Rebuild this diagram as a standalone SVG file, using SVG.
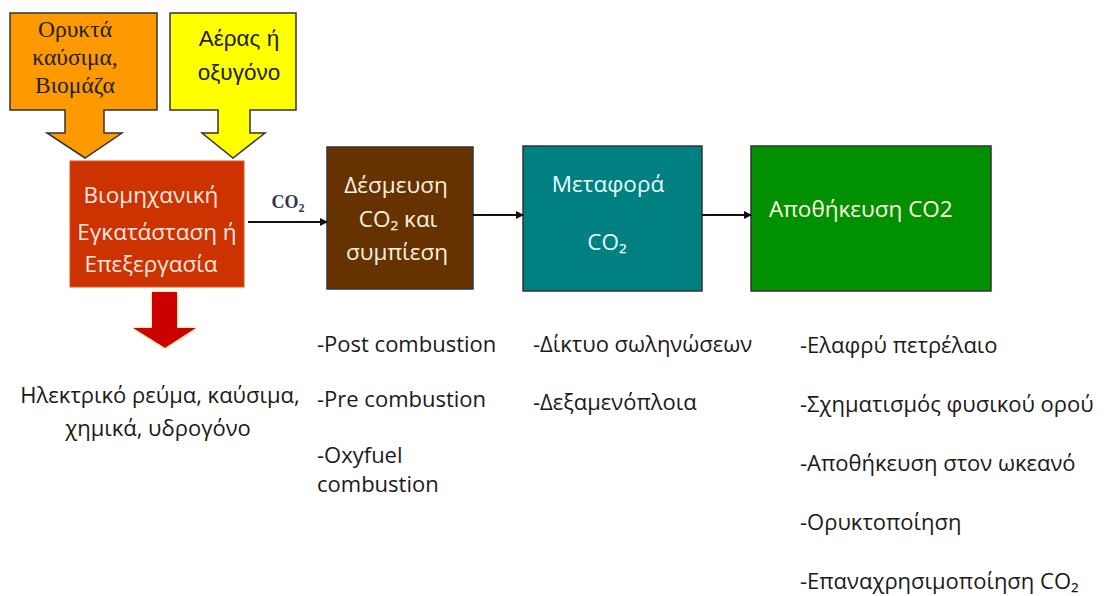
<svg xmlns="http://www.w3.org/2000/svg" width="1105" height="596" viewBox="0 0 1105 596">
<defs>
<marker id="ah" markerWidth="8" markerHeight="8" refX="7" refY="4" orient="auto" markerUnits="userSpaceOnUse">
<path d="M0,0 L8,4 L0,8 Z" fill="#111"/>
</marker>
<filter id="glow" x="-30%" y="-30%" width="160%" height="160%">
<feGaussianBlur in="SourceAlpha" stdDeviation="1.5" result="b"/>
<feFlood flood-color="#FFC040"/>
<feComposite in2="b" operator="in" result="g"/>
<feMerge><feMergeNode in="g"/><feMergeNode in="SourceGraphic"/></feMerge>
</filter>
</defs>
<style>
.t{font-family:"Open Sans","Noto Sans",sans-serif;font-size:22px;fill:#1a1a1a}
.w{font-family:"Open Sans","Noto Sans",sans-serif;font-size:22.5px}
.box{stroke:#333;stroke-width:1.5}
.conn{stroke:#111;stroke-width:2;fill:none;marker-end:url(#ah)}
</style>
<rect width="1105" height="596" fill="#fff"/>

<g id="fuels">
<path class="box" d="M10,13 H157 V110 H104 V133 H122 L85,158 L47,133 H65 V110 H10 Z" fill="#FF9900"/>
<text x="75" y="37" text-anchor="middle" font-family="Liberation Serif,serif" font-size="23.5" fill="#222">Ορυκτά</text>
<text x="75" y="65" text-anchor="middle" font-family="Liberation Serif,serif" font-size="23.5" fill="#222">καύσιμα,</text>
<text x="75" y="93" text-anchor="middle" font-family="Liberation Serif,serif" font-size="23.5" fill="#222">Βιομάζα</text>
</g>

<g id="air">
<path class="box" d="M170,13 H296 V110 H250 V133 H265 L233,158 L202,133 H218 V110 H170 Z" fill="#FFFF00"/>
<text x="239" y="46" text-anchor="middle" font-family="Liberation Sans,sans-serif" font-size="22.5" fill="#222">Αέρας ή</text>
<text x="239" y="80" text-anchor="middle" font-family="Liberation Sans,sans-serif" font-size="22.5" fill="#222">οξυγόνο</text>
</g>

<g id="plant">
<rect x="70" y="161" width="174" height="126" fill="#CC3300" stroke="#E05020" stroke-width="1"/>
<text class="w" x="151" y="203" text-anchor="middle" fill="#FFE8E0" font-size="20.5">Βιομηχανική</text>
<text class="w" x="157" y="240" text-anchor="middle" fill="#FFE8E0" font-size="20.5">Εγκατάσταση ή</text>
<text class="w" x="151" y="272" text-anchor="middle" fill="#FFE8E0" font-size="20.5">Επεξεργασία</text>
</g>

<g id="output-arrow">
<path d="M152,292 H177 V328 H196 L165,348 L133,328 H152 Z" fill="#CC0000" filter="url(#glow)"/>
</g>

<g id="products">
<text class="t" x="160" y="403" text-anchor="middle">Ηλεκτρικό ρεύμα, καύσιμα,</text>
<text class="t" x="158" y="436" text-anchor="middle">χημικά, υδρογόνο</text>
</g>

<g id="capture">
<rect class="box" x="327" y="147" width="146" height="142" fill="#663300"/>
<text class="w" x="396" y="193" text-anchor="middle" fill="#FFF0E0">Δέσμευση</text>
<text class="w" x="398" y="227" text-anchor="middle" fill="#FFF0E0">CO₂ και</text>
<text class="w" x="397" y="260" text-anchor="middle" fill="#FFF0E0">συμπίεση</text>
</g>

<g id="transport">
<rect class="box" x="523" y="146" width="179" height="145" fill="#008080"/>
<text class="w" x="608" y="192" text-anchor="middle" fill="#E8FFFF">Μεταφορά</text>
<text class="w" x="607" y="250" text-anchor="middle" fill="#E8FFFF">CO₂</text>
</g>

<g id="storage">
<rect class="box" x="751" y="146" width="240" height="145" fill="#009000"/>
<text class="w" x="769" y="217" fill="#FFFFE0">Αποθήκευση CO2</text>
</g>

<g id="capture-list">
<text class="t" x="317" y="352">-Post combustion</text>
<text class="t" x="317" y="407">-Pre combustion</text>
<text class="t" x="317" y="463">-Oxyfuel</text>
<text class="t" x="317" y="492">combustion</text>
</g>

<g id="transport-list">
<text class="t" x="533" y="352">-Δίκτυο σωληνώσεων</text>
<text class="t" x="533" y="410">-Δεξαμενόπλοια</text>
</g>

<g id="storage-list">
<text class="t" x="800" y="353">-Ελαφρύ πετρέλαιο</text>
<text class="t" x="800" y="412">-Σχηματισμός φυσικού ορού</text>
<text class="t" x="800" y="471">-Αποθήκευση στον ωκεανό</text>
<text class="t" x="800" y="530">-Ορυκτοποίηση</text>
<text class="t" x="800" y="589">-Επαναχρησιμοποίηση CO₂</text>
</g>

<g id="connectors">
<line class="conn" x1="248" y1="222" x2="327" y2="222"/>
<text x="288" y="208" text-anchor="middle" font-family="Liberation Serif,serif" font-weight="bold" font-size="18" fill="#333355">CO<tspan font-size="12" dy="4">2</tspan></text>
<line class="conn" x1="473" y1="215" x2="523" y2="215"/>
<line class="conn" x1="702" y1="215" x2="751" y2="215"/>
</g>
</svg>
